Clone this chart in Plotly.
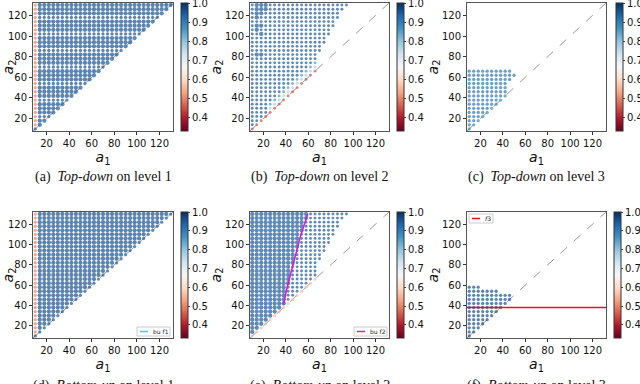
import numpy as np
import plotly.graph_objects as go

# ---- data -----------------------------------------------------------------
GRID = [10, 14, 18, 22, 26, 30, 34, 38, 42, 46, 50, 54, 58, 62, 66, 70,
        74, 78, 82, 86, 90, 94, 98, 102, 106, 110, 114, 118, 122, 126, 130]
AXIS_RANGE = [8, 132]
TICKS = [20, 40, 60, 80, 100, 120]
CBAR_TICKS = [0.4, 0.5, 0.6, 0.7, 0.8, 0.9, 1.0]
C_MIN, C_MAX = 0.33, 1.0005

# last a1 column filled in each a2 row (row order = GRID); 0 = empty row
FULL_ROW_END = [130] * 31
TD2_ROW_END = [130, 130, 130, 130, 130, 130, 130, 130, 130, 130, 130, 130, 130, 130, 130,
               66, 66, 66, 66, 70, 70, 74, 74, 78, 78, 82, 82, 86, 86, 90, 94]
TD3_ROW_END = [130, 130, 130, 130, 130, 130, 130, 130, 130, 42, 42, 42, 46, 50, 46,
               0, 0, 0, 0, 0, 0, 0, 0, 0, 0, 0, 0, 0, 0, 0, 0]
BU3_ROW_END = [130, 130, 130, 130, 130, 130, 130, 130, 130, 130, 46, 34, 18, 0, 0,
               0, 0, 0, 0, 0, 0, 0, 0, 0, 0, 0, 0, 0, 0, 0, 0]

# colour values: interior / first column (a1=10) / diagonal (a1=a2)
BODY_VALUE = [0.96, 0.95, 0.91, 0.96, 0.95, 0.96]
EDGE_VALUE = [0.50, 0.95, 0.91, 0.50, 0.95, 0.96]
DIAG_VALUE = [0.95, 0.45, 0.88, 0.95, 0.56, 0.96]
# top-down level 2: values one and two steps above the diagonal
TD2_NEAR_DIAG = [0.78, 0.86]

# rows with smaller markers in (a); large markers in (b)
TD1_SMALL_ROWS = [22, 38, 54, 70, 86, 102, 118]
TD2_BIG_A1 = [14, 18, 22, 14, 18, 22, 14, 18, 14, 14, 18, 14, 18, 14, 18]
TD2_BIG_A2 = [130, 130, 130, 126, 126, 126, 122, 122, 118, 110, 110, 106, 102, 82, 82]

# threshold curves
BU2_LINE_A1 = [38, 40.5, 44, 48, 53, 59.5]
BU2_LINE_A2 = [41, 55, 70, 88, 108, 130]
F3_LEVEL = 38

CAPTIONS = ["(a)  <i>Top-down</i> on level 1", "(b)  <i>Top-down</i> on level 2",
            "(c)  <i>Top-down</i> on level 3", "(d)  <i>Bottom-up</i> on level 1",
            "(e)  <i>Bottom-up</i> on level 2", "(f)  <i>Bottom-up</i> on level 3"]

RDBU = [[0.0, "#67001f"], [0.1, "#b2182b"], [0.2, "#d6604d"], [0.3, "#f4a582"],
        [0.4, "#fddbc7"], [0.5, "#f7f7f7"], [0.6, "#d1e5f0"], [0.7, "#92c5de"],
        [0.8, "#4393c3"], [0.9, "#2166ac"], [1.0, "#053061"]]

W, H = 640, 384
BIG, MID, SMALL = 4.3, 3.3, 2.9


def fx(p):
    return p / W


def fy(p):
    return 1 - p / H


def panel_points(idx, row_end):
    xs, ys, cs, ss = [], [], [], []
    big = set(zip(TD2_BIG_A1, TD2_BIG_A2))
    for a2, end in zip(GRID, row_end):
        for a1 in GRID:
            if a1 > a2 or a1 > end:
                continue
            if a1 == a2:
                v = DIAG_VALUE[idx]
            elif a1 == GRID[0]:
                v = EDGE_VALUE[idx]
            else:
                v = BODY_VALUE[idx]
            if idx == 0:
                if a1 == GRID[0]:
                    s = MID
                else:
                    s = MID if a2 in TD1_SMALL_ROWS else BIG
            elif idx == 1:
                gap = (a2 - a1) // 4
                if 1 <= gap <= 2 and a1 >= 26:
                    v = TD2_NEAR_DIAG[gap - 1]
                s = BIG if (a1, a2) in big else SMALL
            elif idx == 3:
                s = MID if (a1 == GRID[0] or a1 == a2) else BIG
            elif idx == 4:
                lim = np.interp(a2, BU2_LINE_A2, BU2_LINE_A1)
                s = BIG if a1 < lim else SMALL
                if a1 == a2:
                    s = MID
            else:
                s = MID
            xs.append(a1)
            ys.append(a2)
            cs.append(v)
            ss.append(s)
    return xs, ys, cs, ss


# layout boxes in pixels: (left, right, top, bottom, colorbar left)
BOXES = [(33, 173, 3, 131, 181), (250, 389, 3, 131, 397), (467, 606, 3, 131, 616),
         (33, 173, 212, 338, 181), (250, 389, 212, 338, 397), (467, 606, 212, 338, 614)]
ROW_ENDS = [FULL_ROW_END, TD2_ROW_END, TD3_ROW_END, FULL_ROW_END, TD2_ROW_END, BU3_ROW_END]

fig = go.Figure()
layout = {}
FONT = "DejaVu Sans"

for i, (l, r, t, b, cb) in enumerate(BOXES):
    n = "" if i == 0 else str(i + 1)
    xa, ya = "x" + n, "y" + n
    ca = "coloraxis" + n
    xs, ys, cs, ss = panel_points(i, ROW_ENDS[i])

    # dashed diagonal
    fig.add_trace(go.Scatter(x=AXIS_RANGE, y=AXIS_RANGE, mode="lines", xaxis=xa, yaxis=ya,
                             line=dict(color="#9a9a9a", width=1, dash="dash"),
                             showlegend=False, hoverinfo="skip"))
    fig.add_trace(go.Scatter(x=xs, y=ys, mode="markers", xaxis=xa, yaxis=ya,
                             marker=dict(color=cs, size=ss, coloraxis=ca, line=dict(width=0)),
                             showlegend=False))

    common = dict(range=AXIS_RANGE, tickvals=TICKS, ticks="outside", ticklen=3,
                  tickcolor="#333", showline=True, linecolor="#555", linewidth=1,
                  mirror=True, showgrid=False, zeroline=False, automargin=False,
                  tickfont=dict(family=FONT, size=10, color="#111"))
    layout["xaxis" + n] = dict(common, domain=[fx(l), fx(r)], anchor=ya,
                               title=dict(text="<i>a</i><sub>1</sub>", standoff=0,
                                          font=dict(family=FONT, size=14, color="#111")))
    layout["yaxis" + n] = dict(common, domain=[fy(b), fy(t)], anchor=xa,
                               title=dict(text="<i>a</i><sub>2</sub>", standoff=0,
                                          font=dict(family=FONT, size=14, color="#111")))
    layout[ca] = dict(colorscale=RDBU, cmin=C_MIN, cmax=C_MAX,
                      colorbar=dict(x=fx(cb), xanchor="left", xpad=0, ypad=0,
                                    y=fy((t + b) / 2), yanchor="middle",
                                    len=(b - t) / H, lenmode="fraction",
                                    thickness=7, outlinewidth=1, outlinecolor="#333",
                                    tickvals=CBAR_TICKS, ticktext=[f"{v:.1f}" for v in CBAR_TICKS],
                                    ticks="outside", ticklen=2, ticklabeloverflow="allow",
                                    tickfont=dict(family=FONT, size=10, color="#111")))

# threshold lines
fig.add_trace(go.Scatter(x=BU2_LINE_A1, y=BU2_LINE_A2, mode="lines", xaxis="x5", yaxis="y5",
                         line=dict(color="#e010e0", width=1.5), showlegend=False))
fig.add_trace(go.Scatter(x=AXIS_RANGE, y=[F3_LEVEL, F3_LEVEL], mode="lines", xaxis="x6",
                         yaxis="y6", line=dict(color="#ee1111", width=1.5), showlegend=False))

# small matplotlib-style legend boxes: (left, right, top, bottom, colour, label)
LEGENDS = [(137, 170, 327, 336, "#4fc3e0", "bu f1"),
           (354, 387, 327, 336, "#e010e0", "bu f2"),
           (469, 493, 214, 223, "#ee1111", "<i>f</i>3")]
shapes, annotations = [], []
for l, r, t, b, col, lab in LEGENDS:
    shapes.append(dict(type="rect", xref="paper", yref="paper", x0=fx(l), x1=fx(r),
                       y0=fy(b), y1=fy(t), line=dict(color="#cccccc", width=1),
                       fillcolor="white"))
    shapes.append(dict(type="line", xref="paper", yref="paper", x0=fx(l + 3), x1=fx(l + 11),
                       y0=fy((t + b) / 2), y1=fy((t + b) / 2), line=dict(color=col, width=1.5)))
    annotations.append(dict(text=lab, x=fx(l + 14), y=fy((t + b) / 2), xref="paper",
                            yref="paper", xanchor="left", yanchor="middle", showarrow=False,
                            font=dict(family=FONT, size=6, color="#222")))

for (l, r, t, b, cb), text in zip(BOXES, CAPTIONS):
    ytop = 167 if t < 100 else 376
    annotations.append(dict(text=text, x=fx((l + r) / 2), y=fy(ytop), xref="paper",
                            yref="paper", xanchor="center", yanchor="top", showarrow=False,
                            font=dict(family="Liberation Serif", size=14, color="#111")))

fig.update_layout(**layout)
fig.update_layout(width=W, height=H,
                  margin=dict(l=0, r=0, t=0, b=0, pad=0, autoexpand=False),
                  plot_bgcolor="white", paper_bgcolor="white",
                  annotations=annotations, shapes=shapes, showlegend=False)

# drop the browser's default body margin so the figure sits at the page corner
fig.write_html("out.html", config={"displayModeBar": False},
               post_script="document.body.style.margin = '0px';")
